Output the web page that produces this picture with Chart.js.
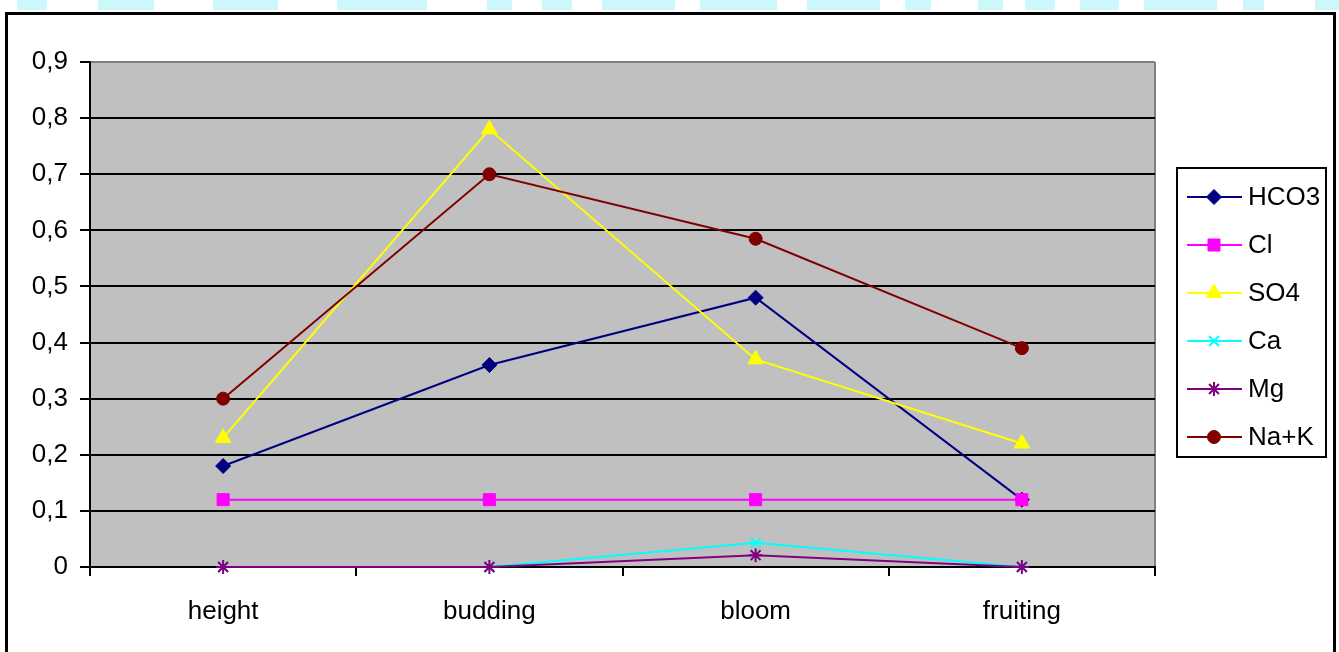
<!DOCTYPE html>
<html lang="en">
<head>
  <meta charset="UTF-8">
  <title>Ions by phase</title>
  <script src="https://cdn.jsdelivr.net/npm/chart.js@4.4.1/dist/chart.umd.min.js"></script>
  <style>
    body { margin:0; background:#fff; }
    #wrap { position:relative; width:1339px; height:652px; overflow:hidden; }
    .blk { position:absolute; top:0; height:10px; background:#ccf7fb; }
    #frame { position:absolute; left:5px; top:12px; width:1325px; height:700px; border:3px solid #000; }
    canvas { position:absolute; left:0; top:0; }
  </style>
</head>
<body>
<div id="wrap">
  <div class="blk" style="left:17px;width:30px"></div>
  <div class="blk" style="left:98px;width:56px"></div>
  <div class="blk" style="left:213px;width:65px"></div>
  <div class="blk" style="left:337px;width:90px"></div>
  <div class="blk" style="left:487px;width:25px"></div>
  <div class="blk" style="left:542px;width:30px"></div>
  <div class="blk" style="left:602px;width:73px"></div>
  <div class="blk" style="left:700px;width:77px"></div>
  <div class="blk" style="left:807px;width:73px"></div>
  <div class="blk" style="left:905px;width:26px"></div>
  <div class="blk" style="left:978px;width:25px"></div>
  <div class="blk" style="left:1025px;width:30px"></div>
  <div class="blk" style="left:1080px;width:39px"></div>
  <div class="blk" style="left:1144px;width:73px"></div>
  <div class="blk" style="left:1243px;width:21px"></div>
  <div class="blk" style="left:1315px;width:24px"></div>
  <div id="frame"></div>
  <canvas id="chart" width="1339" height="652"></canvas>
</div>

<script>
// phases
const phases = ['height', 'budding', 'bloom', 'fruiting'];

// series values
const hco3 = [0.18, 0.36, 0.48, 0.12];
const cl   = [0.12, 0.12, 0.12, 0.12];
const so4  = [0.23, 0.78, 0.37, 0.22];
const ca   = [0, 0, 0.043, 0];
const mg   = [0, 0, 0.021, 0];
const nak  = [0.30, 0.70, 0.585, 0.39];

// y axis
const yTicks = [0, 0.1, 0.2, 0.3, 0.4, 0.5, 0.6, 0.7, 0.8, 0.9];

const FONT = "'Liberation Sans', Arial, sans-serif";

function series(label, data, color, style, r, bw) {
  return {
    label: label, data: data,
    borderColor: color, backgroundColor: color,
    borderWidth: 2, tension: 0, clip: false,
    pointStyle: style, pointRadius: r, pointHoverRadius: r,
    pointBorderColor: color, pointBackgroundColor: color, pointBorderWidth: bw
  };
}

const sets = [
  series('HCO3', hco3, '#000080', 'rectRot', 7.5, 1),
  series('Cl', cl, '#ff00ff', 'rect', 8.5, 1),
  series('SO4', so4, '#ffff00', 'triangle', 9, 1),
  series('Ca', ca, '#00ffff', 'crossRot', 7, 2),
  series('Mg', mg, '#800080', 'star', 7, 2),
  series('Na+K', nak, '#800000', 'circle', 6.5, 1)
];
// later series on top, like the original
sets.forEach((d, i) => { d.order = -i; });

// grey plot area with grey right border
const plotBg = {
  id: 'plotBg',
  beforeDraw(chart) {
    const a = chart.chartArea, ctx = chart.ctx;
    ctx.save();
    ctx.fillStyle = '#c0c0c0';
    ctx.fillRect(a.left, a.top, a.right - a.left, a.bottom - a.top);
    ctx.strokeStyle = '#808080';
    ctx.lineWidth = 2;
    ctx.beginPath();
    ctx.moveTo(a.right, a.top);
    ctx.lineTo(a.right, a.bottom);
    ctx.stroke();
    ctx.restore();
  }
};

// legend box drawn like the office one: line + marker
const boxLegend = {
  id: 'boxLegend',
  afterDraw(chart) {
    const ctx = chart.ctx;
    const x0 = 1177, y0 = 168, w = 149, h = 289;
    ctx.save();
    ctx.fillStyle = '#fff';
    ctx.fillRect(x0, y0, w, h);
    ctx.strokeStyle = '#000';
    ctx.lineWidth = 2;
    ctx.strokeRect(x0, y0, w, h);
    ctx.font = '26px ' + FONT;
    ctx.textBaseline = 'middle';
    ctx.textAlign = 'left';
    chart.data.datasets.forEach((d, i) => {
      const y = 197 + i * 48;
      ctx.strokeStyle = d.borderColor;
      ctx.lineWidth = 2;
      ctx.beginPath();
      ctx.moveTo(1187, y);
      ctx.lineTo(1242, y);
      ctx.stroke();
      ctx.fillStyle = d.pointBackgroundColor;
      ctx.strokeStyle = d.pointBorderColor;
      ctx.lineWidth = d.pointBorderWidth;
      Chart.helpers.drawPoint(ctx, { pointStyle: d.pointStyle, radius: d.pointRadius, rotation: 0, borderWidth: d.pointBorderWidth }, 1214, y);
      ctx.fillStyle = '#000';
      ctx.fillText(d.label, 1248, y + 1);
    });
    ctx.restore();
  }
};

new Chart(document.getElementById('chart'), {
  type: 'line',
  data: { labels: phases, datasets: sets },
  options: {
    responsive: false,
    animation: false,
    layout: { padding: { top: 62, right: 184, bottom: 0, left: 0 } },
    plugins: { legend: { display: false }, tooltip: { enabled: false } },
    scales: {
      x: {
        offset: true,
        afterFit(s) { s.height = 85; },
        border: { color: '#000', width: 2 },
        grid: { offset: true, drawOnChartArea: false, drawTicks: true, tickLength: 9, color: '#000', lineWidth: 2 },
        ticks: { color: '#000', padding: 20, font: { family: FONT, size: 26 } }
      },
      y: {
        min: 0, max: 0.9,
        afterFit(s) { s.width = 90; },
        afterBuildTicks(s) { s.ticks = yTicks.map(v => ({ value: v })); },
        border: { color: '#000', width: 2 },
        grid: {
          color: c => (c.tick && c.tick.value === 0.9) ? '#808080' : '#000',
          tickColor: '#000', lineWidth: 2, tickLength: 10
        },
        ticks: {
          color: '#000', padding: 12, font: { family: FONT, size: 26 },
          callback: v => v === 0 ? '0' : v.toFixed(1).replace('.', ',')
        }
      }
    }
  },
  plugins: [plotBg, boxLegend]
});
</script>
</body>
</html>
